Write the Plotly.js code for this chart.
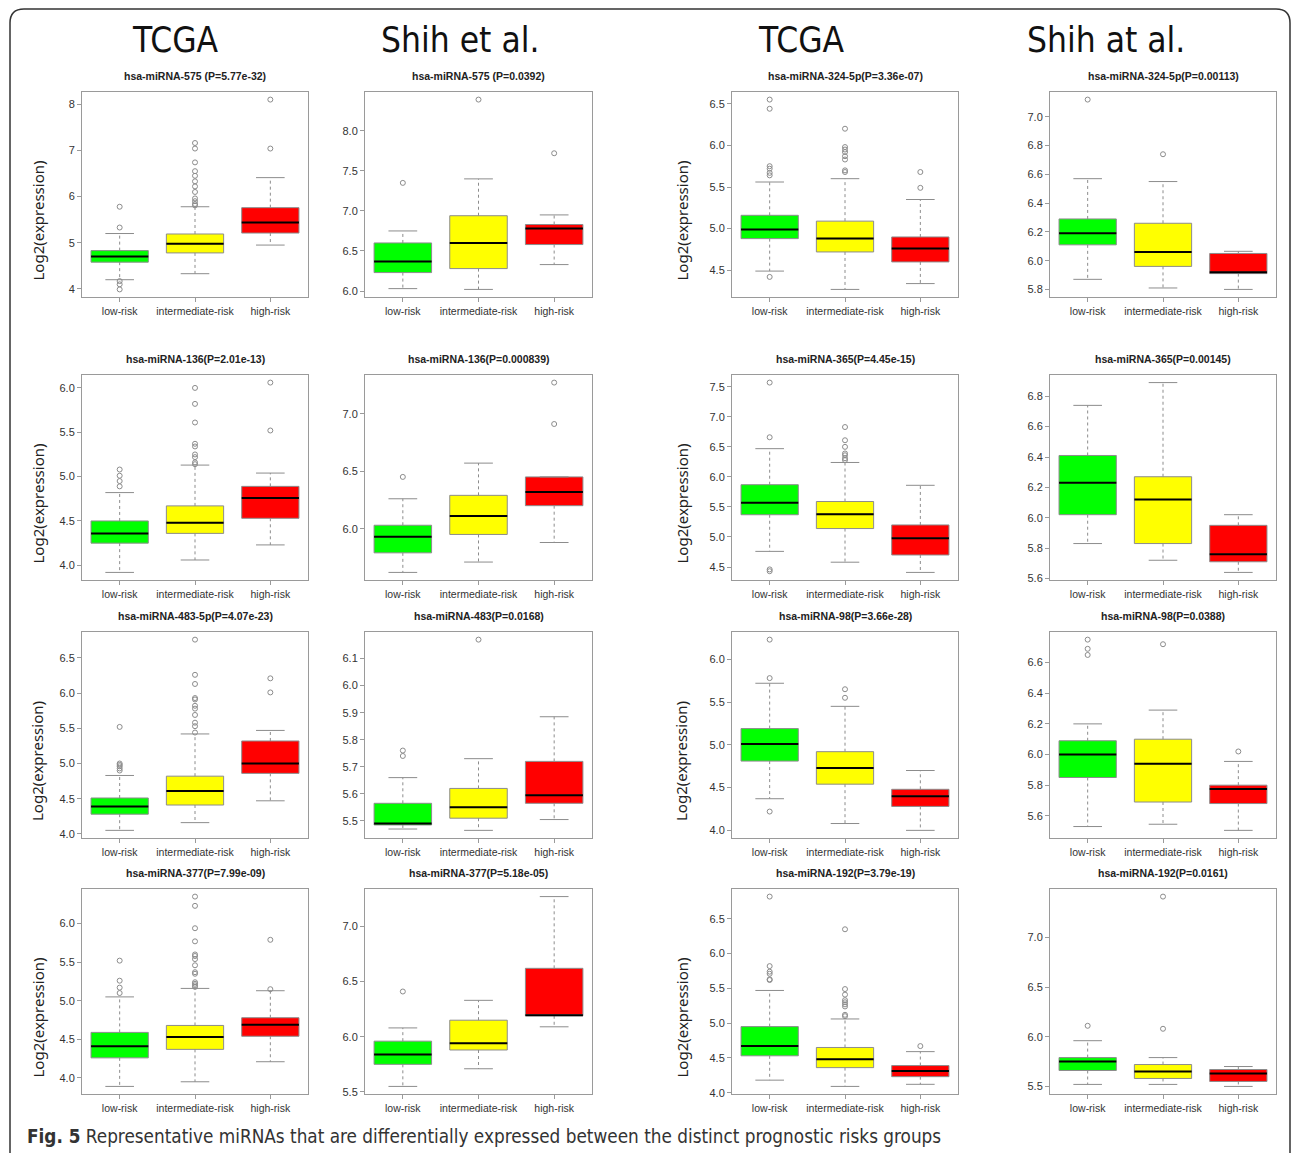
<!DOCTYPE html>
<html>
<head>
<meta charset="utf-8">
<script src="https://cdn.plot.ly/plotly-3.0.1.min.js"></script>
<style>html,body{margin:0;padding:0;background:#fff;}#chart{width:1292px;height:1153px;}</style>
</head>
<body>
<div id="chart"></div>
<script>
// ---------- DATA ----------
const groups = ['low-risk', 'intermediate-risk', 'high-risk'];
const columnHeaders = ['TCGA', 'Shih et al.', 'TCGA', 'Shih at al.'];
const panelTitles = [
  'hsa-miRNA-575 (P=5.77e-32)', 'hsa-miRNA-575 (P=0.0392)', 'hsa-miRNA-324-5p(P=3.36e-07)', 'hsa-miRNA-324-5p(P=0.00113)',
  'hsa-miRNA-136(P=2.01e-13)', 'hsa-miRNA-136(P=0.000839)', 'hsa-miRNA-365(P=4.45e-15)', 'hsa-miRNA-365(P=0.00145)',
  'hsa-miRNA-483-5p(P=4.07e-23)', 'hsa-miRNA-483(P=0.0168)', 'hsa-miRNA-98(P=3.66e-28)', 'hsa-miRNA-98(P=0.0388)',
  'hsa-miRNA-377(P=7.99e-09)', 'hsa-miRNA-377(P=5.18e-05)', 'hsa-miRNA-192(P=3.79e-19)', 'hsa-miRNA-192(P=0.0161)'
];
const whiskerLow = [
  [4.20, 4.33, 4.95], [6.03, 6.02, 6.33], [4.49, 4.27, 4.34], [5.87, 5.81, 5.80],
  [3.92, 4.06, 4.23], [5.62, 5.71, 5.88], [4.76, 4.58, 4.41], [5.83, 5.72, 5.64],
  [4.05, 4.16, 4.47], [5.47, 5.465, 5.505], [4.37, 4.08, 4.00], [5.53, 5.545, 5.505],
  [3.89, 3.95, 4.21], [5.55, 5.71, 6.09], [4.18, 4.09, 4.12], [5.52, 5.52, 5.50]
];
const q1 = [
  [4.58, 4.78, 5.21], [6.23, 6.28, 6.58], [4.88, 4.72, 4.60], [6.11, 5.96, 5.91],
  [4.25, 4.36, 4.53], [5.79, 5.95, 6.20], [5.37, 5.14, 4.70], [6.02, 5.83, 5.71],
  [4.28, 4.41, 4.86], [5.485, 5.51, 5.565], [4.81, 4.54, 4.28], [5.85, 5.69, 5.68],
  [4.26, 4.37, 4.54], [5.75, 5.88, 6.19], [4.53, 4.36, 4.23], [5.66, 5.58, 5.55]
];
const median = [
  [4.70, 4.98, 5.44], [6.37, 6.60, 6.78], [4.99, 4.88, 4.76], [6.19, 6.06, 5.92],
  [4.36, 4.48, 4.76], [5.93, 6.11, 6.32], [5.57, 5.38, 4.98], [6.23, 6.12, 5.76],
  [4.39, 4.61, 5.00], [5.49, 5.55, 5.595], [5.01, 4.73, 4.40], [6.00, 5.94, 5.775],
  [4.41, 4.53, 4.69], [5.84, 5.94, 6.195], [4.67, 4.48, 4.31], [5.75, 5.65, 5.63]
];
const q3 = [
  [4.83, 5.19, 5.76], [6.60, 6.94, 6.83], [5.16, 5.09, 4.90], [6.29, 6.26, 6.05],
  [4.50, 4.67, 4.89], [6.03, 6.29, 6.45], [5.87, 5.59, 5.20], [6.41, 6.27, 5.95],
  [4.51, 4.82, 5.32], [5.565, 5.62, 5.72], [5.19, 4.92, 4.48], [6.09, 6.10, 5.80],
  [4.59, 4.68, 4.78], [5.96, 6.15, 6.62], [4.95, 4.65, 4.39], [5.79, 5.72, 5.67]
];
const whiskerHigh = [
  [5.20, 5.78, 6.41], [6.75, 7.40, 6.95], [5.56, 5.60, 5.35], [6.57, 6.55, 6.065],
  [4.82, 5.13, 5.04], [6.26, 6.57, 6.45], [6.47, 6.24, 5.86], [6.74, 6.89, 6.02],
  [4.83, 5.42, 5.47], [5.66, 5.73, 5.885], [5.72, 5.45, 4.70], [6.20, 6.29, 5.955],
  [5.05, 5.16, 5.13], [6.08, 6.33, 7.27], [5.47, 5.06, 4.59], [5.96, 5.79, 5.70]
];
const outliers = [
  [[5.78, 5.33, 4.17, 4.10, 3.99], [7.16, 7.04, 6.74, 6.55, 6.45, 6.33, 6.22, 6.10, 5.96, 5.90, 5.84, 5.81], [8.10, 7.04]],
  [[7.35], [8.39], [7.72]],
  [[6.55, 6.44, 5.75, 5.72, 5.67, 5.64, 4.42], [6.20, 5.98, 5.95, 5.92, 5.87, 5.83, 5.70, 5.68], [5.68, 5.49]],
  [[7.12], [6.74], []],
  [[5.08, 5.01, 4.95, 4.89], [6.00, 5.82, 5.61, 5.37, 5.34, 5.25, 5.22, 5.16, 5.14], [6.06, 5.52]],
  [[6.45], [], [7.27, 6.91]],
  [[7.57, 6.66, 4.46, 4.43], [6.83, 6.61, 6.50, 6.39, 6.36, 6.31, 6.28], []],
  [[], [], []],
  [[5.52, 5.00, 4.98, 4.96, 4.93, 4.90], [6.76, 6.26, 6.13, 5.93, 5.91, 5.82, 5.78, 5.69, 5.58, 5.53, 5.44], [6.21, 6.01]],
  [[5.76, 5.74], [6.17], []],
  [[6.23, 5.78, 4.22], [5.65, 5.55], []],
  [[6.75, 6.69, 6.65], [6.72], [6.02]],
  [[5.52, 5.26, 5.17, 5.10], [6.35, 6.23, 5.94, 5.77, 5.60, 5.58, 5.54, 5.46, 5.37, 5.35, 5.24, 5.22, 5.20, 5.18], [5.79, 5.15]],
  [[6.41], [], []],
  [[6.82, 5.82, 5.74, 5.71, 5.63, 5.62], [6.35, 5.49, 5.41, 5.33, 5.30, 5.27, 5.24, 5.12, 5.10], [4.67]],
  [[6.11], [7.41, 6.08], []]
];
const yTickStep = [1, 0.5, 0.5, 0.2, 0.5, 0.5, 0.5, 0.2, 0.5, 0.1, 0.5, 0.2, 0.5, 0.5, 0.5, 0.5];
const yTitle = 'Log2(expression)';
const caption = '<b>Fig. 5</b> Representative miRNAs that are differentially expressed between the distinct prognostic risks groups';

// ---------- LAYOUT HELPERS ----------
const W = 1292, H = 1153;
const colPx = [[82, 308], [365, 592], [732, 958], [1050, 1276]];
const rowPx = [[92, 297], [375, 580], [632, 838], [889, 1094]];
const fills = ['#00ff00', '#ffff00', '#ff0000'];
const px2x = v => v / W;
const px2y = v => 1 - v / H;
const boxW = 0.76, capHalf = 0.19, medHalf = 0.38;
const greyLine = '#8c8c8c';

const traces = [];
const layout = {
  width: W, height: H,
  margin: {l: 0, r: 0, t: 0, b: 0},
  paper_bgcolor: '#ffffff', plot_bgcolor: '#ffffff',
  showlegend: false, hovermode: false,
  boxmode: 'overlay',
  annotations: [], shapes: []
};

for (let p = 0; p < 16; p++) {
  const r = Math.floor(p / 4), c = p % 4;
  const sfx = p === 0 ? '' : String(p + 1);
  const xa = 'x' + sfx, ya = 'y' + sfx;
  const wx = [], wy = [], cx = [], cy = [], mx = [], my = [], ox = [], oy = [];
  let all = [];
  for (let g = 0; g < 3; g++) {
    const pos = g + 1;
    traces.push({
      type: 'box', x: [pos], q1: [q1[p][g]], median: [median[p][g]], q3: [q3[p][g]],
      lowerfence: [q1[p][g]], upperfence: [q3[p][g]],
      width: boxW, fillcolor: fills[g], line: {color: greyLine, width: 1},
      whiskerwidth: 0, boxpoints: false, xaxis: xa, yaxis: ya, hoverinfo: 'skip', name: groups[g]
    });
    wx.push(pos, pos, null, pos, pos, null);
    wy.push(q3[p][g], whiskerHigh[p][g], null, q1[p][g], whiskerLow[p][g], null);
    cx.push(pos - capHalf, pos + capHalf, null, pos - capHalf, pos + capHalf, null);
    cy.push(whiskerHigh[p][g], whiskerHigh[p][g], null, whiskerLow[p][g], whiskerLow[p][g], null);
    mx.push(pos - medHalf, pos + medHalf, null);
    my.push(median[p][g], median[p][g], null);
    outliers[p][g].forEach(v => { ox.push(pos); oy.push(v); });
    all = all.concat([whiskerLow[p][g], whiskerHigh[p][g]], outliers[p][g]);
  }
  traces.push({type: 'scatter', mode: 'lines', x: wx, y: wy, xaxis: xa, yaxis: ya,
    line: {color: greyLine, width: 1, dash: '3px,3px'}, hoverinfo: 'skip', connectgaps: false});
  traces.push({type: 'scatter', mode: 'lines', x: cx, y: cy, xaxis: xa, yaxis: ya,
    line: {color: greyLine, width: 1}, hoverinfo: 'skip', connectgaps: false});
  traces.push({type: 'scatter', mode: 'lines', x: mx, y: my, xaxis: xa, yaxis: ya,
    line: {color: '#000000', width: 2}, hoverinfo: 'skip', connectgaps: false});
  traces.push({type: 'scatter', mode: 'markers', x: ox, y: oy, xaxis: xa, yaxis: ya,
    marker: {symbol: 'circle-open', size: 5, color: '#8c8c8c', line: {width: 1}}, hoverinfo: 'skip'});

  const mn = Math.min(...all), mxv = Math.max(...all);
  const pad = (mxv - mn) * 0.04;
  const xdom = [px2x(colPx[c][0]), px2x(colPx[c][1])];
  const ydom = [px2y(rowPx[r][1]), px2y(rowPx[r][0])];
  const axCommon = {
    showline: true, mirror: true, linecolor: '#9a9a9a', linewidth: 1,
    ticks: 'outside', ticklen: 4, tickcolor: '#9a9a9a', tickwidth: 1,
    showgrid: false, zeroline: false, fixedrange: true
  };
  layout['xaxis' + sfx] = Object.assign({}, axCommon, {
    domain: xdom, anchor: ya, range: [0.5, 3.5], tickmode: 'array',
    tickvals: [1, 2, 3], ticktext: groups,
    tickfont: {family: 'Liberation Sans, Arial, sans-serif', size: 10.5, color: '#333333'}
  });
  layout['yaxis' + sfx] = Object.assign({}, axCommon, {
    domain: ydom, anchor: xa, range: [mn - pad, mxv + pad],
    dtick: yTickStep[p], tick0: 0, tickformat: p === 0 ? 'd' : '.1f',
    tickfont: {family: 'Liberation Sans, Arial, sans-serif', size: 11, color: '#333333'}
  });
  layout.annotations.push({
    text: '<b>' + panelTitles[p] + '</b>', xref: 'paper', yref: 'paper',
    x: (xdom[0] + xdom[1]) / 2, y: px2y(rowPx[r][0] - 16), xanchor: 'center', yanchor: 'middle',
    showarrow: false, font: {family: 'Liberation Sans, Arial, sans-serif', size: 10.5, color: '#222222'}
  });
  if (c === 0 || c === 2) {
    layout.annotations.push({
      text: yTitle, xref: 'paper', yref: 'paper', textangle: -90,
      x: px2x(c === 0 ? 37 : 681), y: px2y((rowPx[r][0] + rowPx[r][1]) / 2 + 26),
      xanchor: 'center', yanchor: 'middle', showarrow: false,
      font: {family: 'Noto Sans, Open Sans, sans-serif', size: 15, color: '#222222'}
    });
  }
}

const headerX = [175, 460, 802, 1106];
columnHeaders.forEach((t, i) => {
  layout.annotations.push({
    text: t, xref: 'paper', yref: 'paper', x: px2x(headerX[i]), y: px2y(40),
    xanchor: 'center', yanchor: 'middle', showarrow: false,
    font: {family: 'Liberation Sans Narrow, DejaVu Sans Condensed, sans-serif', size: 35, color: '#111111'}
  });
});
layout.annotations.push({
  text: caption, xref: 'paper', yref: 'paper', x: px2x(25), y: px2y(1136),
  xanchor: 'left', yanchor: 'middle', showarrow: false,
  font: {family: 'Liberation Sans Narrow, DejaVu Sans Condensed, sans-serif', size: 18.8, color: '#333333'}
});

// rounded outer frame
const fx0 = 10, fx1 = 1290, fy0 = 9, rad = 14, fyb = 1160;
const P = (x, y) => px2x(x) + ',' + px2y(y);
layout.shapes.push({
  type: 'path', xref: 'paper', yref: 'paper', layer: 'below',
  path: 'M' + P(fx0, fyb) + ' L' + P(fx0, fy0 + rad) + ' Q' + P(fx0, fy0) + ' ' + P(fx0 + rad, fy0) +
        ' L' + P(fx1 - rad, fy0) + ' Q' + P(fx1, fy0) + ' ' + P(fx1, fy0 + rad) + ' L' + P(fx1, fyb),
  line: {color: '#333333', width: 1.5}
});

Plotly.newPlot('chart', traces, layout, {displayModeBar: false, staticPlot: true});
</script>
</body>
</html>
